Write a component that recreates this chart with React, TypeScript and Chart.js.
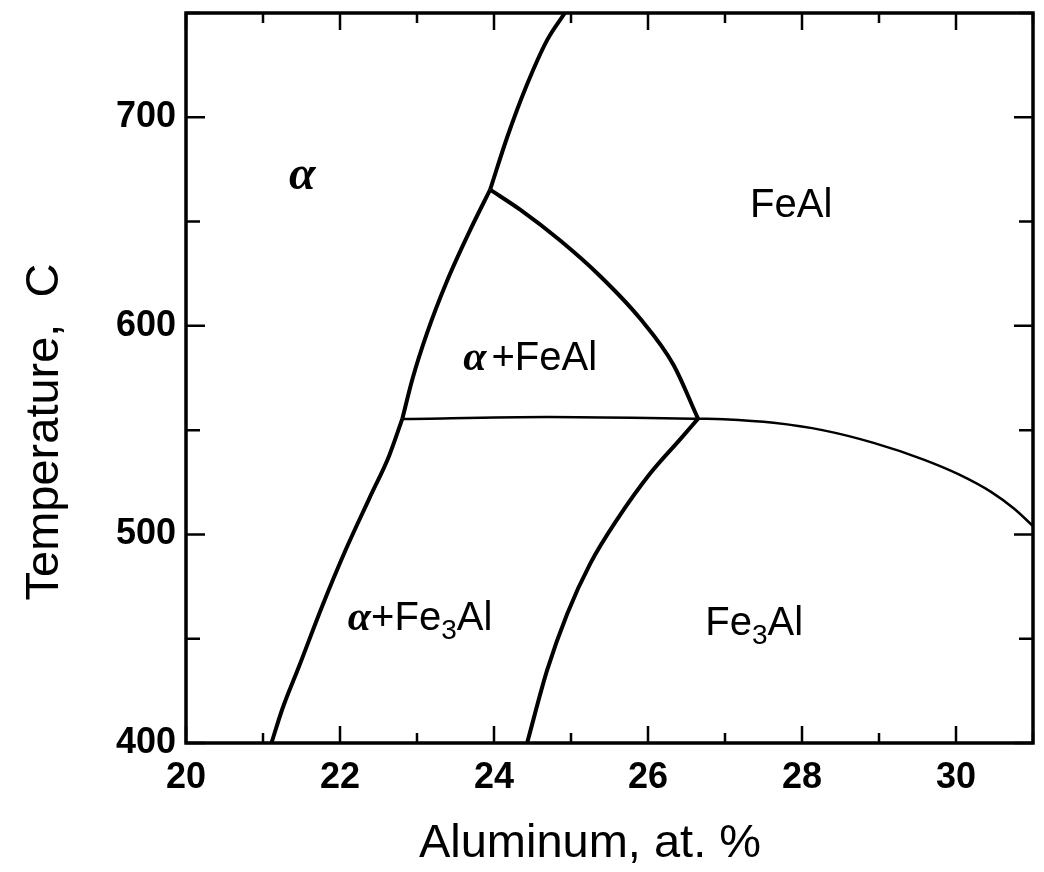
import React, { useEffect, useRef } from 'react';
import { Chart, registerables } from 'chart.js';

Chart.register(...registerables);

// ---- axes ----
const xMin = 20;
const xMax = 31;
const yMin = 400;
const yMax = 750;
const xTickLabels = ['20', '22', '24', '26', '28', '30'];
const yTickLabels = ['400', '500', '600', '700'];
const xTitle = 'Aluminum, at. %';
const yTitle = 'Temperature,  C';

// ---- phase boundaries (at.% Al, °C) ----
const alphaUpperX = [23.95, 24.17, 24.43, 24.69, 24.92];
const alphaUpperY = [665.3, 690.3, 715.8, 737.0, 750.0];
const alphaLowerX = [22.81, 22.94, 23.13, 23.39, 23.69, 23.95];
const alphaLowerY = [555.5, 574.4, 596.5, 621.5, 645.9, 665.3];
const feAlSolvusX = [23.95, 24.34, 24.86, 25.38, 25.9, 26.33, 26.65];
const feAlSolvusY = [665.3, 655.7, 640.9, 623.8, 603.4, 581.4, 555.5];
const eutectoidX = [22.81, 24.7, 26.65];
const eutectoidY = [555.3, 556.3, 555.5];
const orderingX = [26.65, 26.98, 27.63, 28.28, 28.93, 29.58, 30.03, 30.46, 30.76, 31.0];
const orderingY = [555.5, 555.2, 553.5, 549.9, 543.9, 535.9, 528.9, 520.3, 512.2, 504.0];
const alphaFe3AlX = [21.11, 21.25, 21.47, 21.77, 22.08, 22.38, 22.64, 22.81];
const alphaFe3AlY = [400, 416.2, 436.9, 465.7, 493.1, 517.2, 537.9, 555.5];
const fe3AlX = [24.43, 24.69, 24.95, 25.25, 25.6, 26.03, 26.42, 26.65];
const fe3AlY = [400, 434.9, 461.9, 486.0, 507.2, 529.3, 545.7, 555.5];

// ---- region labels ----
const labelX = [21.51, 27.86, 24.47, 23.04, 27.38];
const labelY = [665.6, 652.2, 578.7, 454.1, 451.6];
const labelParts: [string, string, number][][] = [
  [['α', 'greekBig', 0]],
  [['FeAl', 'roman', 0]],
  [['α', 'greek', 5], ['+FeAl', 'roman', 0]],
  [['α', 'greek', 0], ['+Fe', 'roman', 0], ['3', 'sub', 0], ['Al', 'roman', 0]],
  [['Fe', 'roman', 0], ['3', 'sub', 0], ['Al', 'roman', 0]],
];

const partFonts: Record<string, string> = {
  greek: 'italic bold 42px "Liberation Serif"',
  greekBig: 'italic bold 48px "Liberation Serif"',
  roman: '40px "Liberation Sans"',
  sub: '28px "Liberation Sans"',
};
const partDy: Record<string, number> = { greek: 0, greekBig: 0, roman: 0, sub: 9 };

const zip = (xs: number[], ys: number[]) => xs.map((x, i) => ({ x, y: ys[i] }));

const line = (data: { x: number; y: number }[], width: number) => ({
  data,
  showLine: true,
  borderColor: '#000',
  borderWidth: width,
  pointRadius: 0,
  cubicInterpolationMode: 'monotone',
  fill: false,
});

const decorPlugin = {
  id: 'decor',
  afterDraw(chart: any) {
    const { ctx, chartArea: a, scales } = chart;
    const xs = scales.x;
    const ys = scales.y;
    ctx.save();
    ctx.strokeStyle = '#000';
    ctx.fillStyle = '#000';
    ctx.lineCap = 'butt';
    // inward ticks on all four sides
    ctx.lineWidth = 2.5;
    xs.ticks.forEach((t: any) => {
      const px = xs.getPixelForValue(t.value);
      const len = xTickLabels.includes(String(t.value)) ? 17 : 10;
      ctx.beginPath();
      ctx.moveTo(px, a.bottom);
      ctx.lineTo(px, a.bottom - len);
      ctx.moveTo(px, a.top);
      ctx.lineTo(px, a.top + len);
      ctx.stroke();
    });
    ys.ticks.forEach((t: any) => {
      const py = ys.getPixelForValue(t.value);
      const len = yTickLabels.includes(String(t.value)) ? 19 : 14;
      ctx.beginPath();
      ctx.moveTo(a.left, py);
      ctx.lineTo(a.left + len, py);
      ctx.moveTo(a.right, py);
      ctx.lineTo(a.right - len, py);
      ctx.stroke();
    });
    // frame
    ctx.lineWidth = 3.5;
    ctx.strokeRect(a.left, a.top, a.right - a.left, a.bottom - a.top);

    // region labels
    ctx.textBaseline = 'alphabetic';
    ctx.textAlign = 'left';
    labelParts.forEach((parts, i) => {
      let total = 0;
      const widths = parts.map(([txt, kind, gap]) => {
        ctx.font = partFonts[kind];
        const w = ctx.measureText(txt).width + gap;
        total += w;
        return w;
      });
      let cx = xs.getPixelForValue(labelX[i]) - total / 2;
      const by = ys.getPixelForValue(labelY[i]);
      parts.forEach(([txt, kind], j) => {
        ctx.font = partFonts[kind];
        ctx.fillText(txt, cx, by + partDy[kind]);
        cx += widths[j];
      });
    });

    // axis titles
    ctx.font = '47px "Liberation Sans"';
    ctx.textAlign = 'center';
    ctx.textBaseline = 'alphabetic';
    ctx.fillText(xTitle, a.left + 404, a.bottom + 114);
    ctx.translate(a.left - 128, a.top + 419);
    ctx.rotate(-Math.PI / 2);
    ctx.fillText(yTitle, 0, 0);
    ctx.restore();
  },
};

export default function App() {
  const ref = useRef<HTMLCanvasElement | null>(null);
  useEffect(() => {
    if (!ref.current) return;
    const tickFont = { family: '"Liberation Sans"', weight: 'bold' as const, size: 36 };
    const chart = new Chart(ref.current, {
      type: 'scatter',
      data: {
        datasets: [
          line(zip(alphaUpperX, alphaUpperY), 4),
          line(zip(alphaLowerX, alphaLowerY), 4),
          line(zip(feAlSolvusX, feAlSolvusY), 4),
          line(zip(eutectoidX, eutectoidY), 2.5),
          line(zip(orderingX, orderingY), 2.5),
          line(zip(alphaFe3AlX, alphaFe3AlY), 4),
          line(zip(fe3AlX, fe3AlY), 4),
        ] as any,
      },
      options: {
        animation: false,
        responsive: false,
        maintainAspectRatio: false,
        layout: { padding: { top: 5, right: 3, left: 0, bottom: 0 } },
        plugins: {
          legend: { display: false },
          tooltip: { enabled: false },
        },
        scales: {
          x: {
            type: 'linear',
            min: xMin,
            max: xMax,
            grid: { display: false, drawTicks: false },
            border: { display: false },
            ticks: {
              stepSize: 1,
              autoSkip: false,
              maxRotation: 0,
              padding: 13,
              color: '#000',
              font: tickFont,
              callback: (v: any) => (xTickLabels.includes(String(v)) ? String(v) : ''),
            },
            afterFit: (s: any) => {
              s.height = 121;
              s.paddingLeft = 0;
              s.paddingRight = 0;
            },
          },
          y: {
            type: 'linear',
            min: yMin,
            max: yMax,
            grid: { display: false, drawTicks: false },
            border: { display: false },
            ticks: {
              stepSize: 50,
              autoSkip: false,
              padding: 10,
              color: '#000',
              font: tickFont,
              callback: (v: any) => (yTickLabels.includes(String(v)) ? String(v) : ''),
            },
            afterFit: (s: any) => {
              s.width = 178;
              s.paddingTop = 0;
              s.paddingBottom = 0;
            },
          },
        },
      } as any,
      plugins: [decorPlugin],
    });
    return () => chart.destroy();
  }, []);
  return (
    <div style={{ width: 1028, height: 856, background: '#fff' }}>
      <canvas ref={ref} width={1028} height={856} style={{ display: 'block' }} />
    </div>
  );
}
